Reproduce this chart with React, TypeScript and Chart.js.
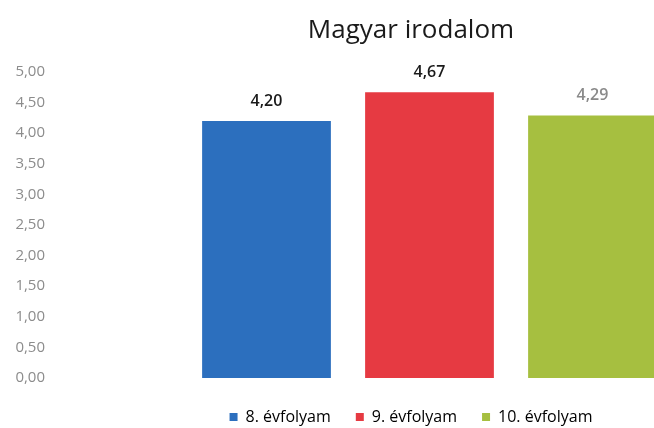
import React, { useEffect, useRef } from "react";
import { Chart, registerables } from "chart.js";

Chart.register(...registerables);

const categories = ["8. évfolyam", "9. évfolyam", "10. évfolyam"];
const values = [4.2, 4.67, 4.29];
const barColors = ["#2c6fbe", "#e63a42", "#a6bf40"];
const labelColors = ["#1a1a1a", "#1a1a1a", "#8a8a8a"];
const titleText = "Magyar irodalom";
const yMin = 0;
const yMax = 5;
const yStep = 0.5;

const fmt = (v: number) => v.toFixed(2).replace(".", ",");

const valueLabels = {
  id: "valueLabels",
  afterDatasetsDraw(chart: any) {
    const ctx = chart.ctx;
    const meta = chart.getDatasetMeta(0);
    ctx.save();
    ctx.font = "600 16px 'Open Sans', sans-serif";
    ctx.textAlign = "center";
    ctx.textBaseline = "middle";
    meta.data.forEach((el: any, i: number) => {
      ctx.fillStyle = labelColors[i];
      ctx.fillText(fmt(values[i]), el.x, el.y - 20);
    });
    ctx.restore();
  },
};

export default function App() {
  const ref = useRef<HTMLCanvasElement>(null);
  useEffect(() => {
    const canvas = ref.current!;
    const chart = new Chart(canvas, {
      type: "bar",
      data: {
        labels: categories,
        datasets: [
          {
            data: values,
            backgroundColor: barColors,
            borderWidth: 0,
            barPercentage: 0.79,
            categoryPercentage: 1,
          },
        ],
      },
      plugins: [valueLabels],
      options: {
        responsive: false,
        animation: false,
        devicePixelRatio: 1,
        layout: { padding: 0 },
        plugins: {
          tooltip: { enabled: false },
          title: {
            display: true,
            text: titleText,
            color: "#1a1a1a",
            font: { family: "'Open Sans', sans-serif", size: 26, weight: "normal", lineHeight: 1.2 },
            padding: { top: 15, bottom: 25.8 },
          },
          legend: {
            display: true,
            position: "bottom",
            labels: {
              boxWidth: 8,
              boxHeight: 8,
              padding: 25,
              color: "#404040",
              font: { family: "'Open Sans', sans-serif", size: 16 },
              generateLabels: () =>
                categories.map((c, i) => ({
                  text: c,
                  fillStyle: barColors[i],
                  strokeStyle: barColors[i],
                  lineWidth: 0,
                  hidden: false,
                  index: i,
                  datasetIndex: 0,
                })),
            },
          },
        },
        scales: {
          x: {
            display: true,
            grid: { display: false },
            border: { display: false },
            ticks: { display: false },
            afterFit: (s: any) => {
              s.height = 6;
            },
          },
          y: {
            min: yMin,
            max: yMax,
            grid: { display: false, drawTicks: false },
            border: { display: false },
            ticks: {
              stepSize: yStep,
              padding: 140,
              color: "#8c8c8c",
              font: { family: "'Open Sans', sans-serif", size: 15 },
              callback: (v: any) => fmt(Number(v)),
            },
            afterFit: (s: any) => {
              s.width = 185;
              s.paddingTop = 0;
              s.paddingBottom = 0;
            },
          },
          y2: {
            position: "right",
            display: true,
            min: 0,
            max: 1,
            grid: { display: false, drawTicks: false },
            border: { display: false },
            ticks: { display: false },
            afterFit: (s: any) => {
              s.width = 148;
              s.paddingTop = 0;
              s.paddingBottom = 0;
            },
          },
        },
      },
    } as any);
    return () => chart.destroy();
  }, []);
  return (
    <div
      style={{
        position: "fixed",
        left: 0,
        top: 0,
        width: 654,
        height: 428,
        overflow: "hidden",
        background: "#ffffff",
      }}
    >
      <canvas ref={ref} width={822} height={435} style={{ width: 822, height: 435, display: "block" }} />
    </div>
  );
}
